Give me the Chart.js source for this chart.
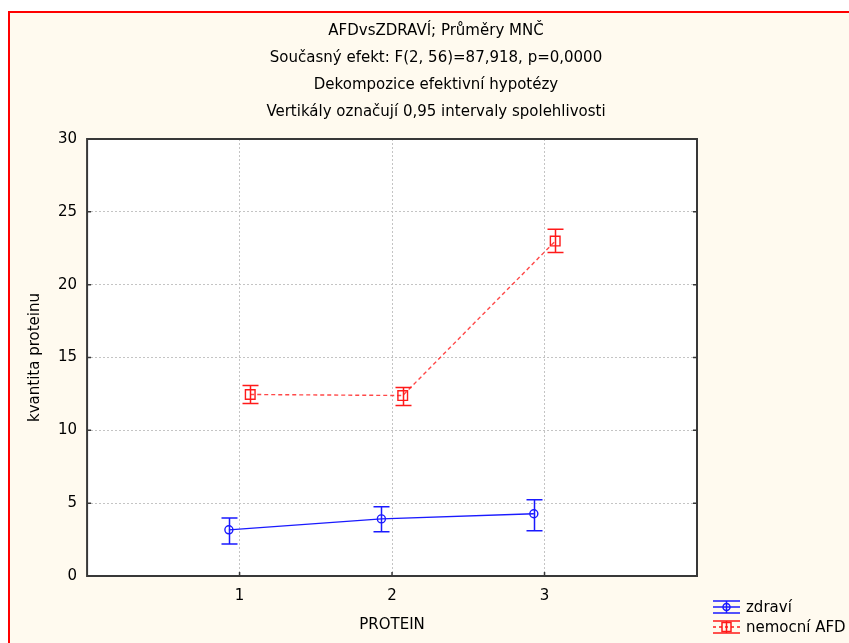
<!DOCTYPE html>
<html>
<head>
<meta charset="utf-8">
<script src="https://cdn.jsdelivr.net/npm/chart.js@4.4.0/dist/chart.umd.min.js"></script>
<style>
    html, body { margin: 0; padding: 0; background: #fff; }
    #wrap { width: 849px; height: 643px; position: relative; }
</style>
</head>
<body>
<div id="wrap"><canvas id="afd-chart"></canvas></div>
<script>
    // values
    const proteins = [1, 2, 3];
    const zdraviMean = [3.17, 3.92, 4.27];
    const zdraviLow = [2.2, 3.03, 3.1];
    const zdraviHigh = [3.99, 4.75, 5.23];
    const afdMean = [12.46, 12.39, 22.99];
    const afdLow = [11.84, 11.7, 22.2];
    const afdHigh = [13.08, 12.94, 23.8];
    const titleLines = [
        'AFDvsZDRAVÍ; Průměry MNČ',
        'Současný efekt: F(2, 56)=87,918, p=0,0000',
        'Dekompozice efektivní hypotézy',
        'Vertikály označují 0,95 intervaly spolehlivosti'
    ];

    const FONT = '"DejaVu Sans", "Liberation Sans", sans-serif';
    const BLUE = '#1a1aff';
    const RED = '#ff1a1a';
    const shift = 0.07;

    function points(means, dx) {
        return means.map((m, i) => ({ x: proteins[i] + dx, y: m }));
    }

    const series = [
        { label: 'zdraví', mean: zdraviMean, low: zdraviLow, high: zdraviHigh, color: BLUE, dx: -shift, marker: 'circle' },
        { label: 'nemocní AFD', mean: afdMean, low: afdLow, high: afdHigh, color: RED, dx: shift, marker: 'rect' }
    ];

    const backdrop = {
        id: 'backdrop',
        beforeDraw(chart) {
            const ctx = chart.ctx, a = chart.chartArea;
            ctx.save();
            ctx.fillStyle = '#fffaef';
            ctx.fillRect(9, 12, chart.width, chart.height);
            ctx.fillStyle = '#ff0000';
            ctx.fillRect(8, 11, chart.width, 2);
            ctx.fillRect(8, 11, 2, chart.height);
            ctx.fillStyle = '#ffffff';
            ctx.fillRect(a.left, a.top, a.right - a.left, a.bottom - a.top);

            // title block
            ctx.fillStyle = '#000';
            ctx.font = '15px ' + FONT;
            ctx.textAlign = 'center';
            ctx.textBaseline = 'middle';
            titleLines.forEach((t, i) => ctx.fillText(t, 436, 31 + i * 27));
            ctx.restore();
        },
        afterDraw(chart) {
            const ctx = chart.ctx, a = chart.chartArea;
            const xs = chart.scales.x, ys = chart.scales.y;
            ctx.save();
            // frame and inner ticks
            ctx.strokeStyle = '#383838';
            ctx.lineWidth = 2;
            ctx.strokeRect(a.left, a.top, a.right - a.left, a.bottom - a.top);
            ctx.lineWidth = 1.5;
            ctx.beginPath();
            for (let v = 5; v < 30; v += 5) {
                const py = ys.getPixelForValue(v);
                ctx.moveTo(a.left, py); ctx.lineTo(a.left + 4, py);
                ctx.moveTo(a.right, py); ctx.lineTo(a.right - 4, py);
            }
            proteins.forEach(p => {
                const px = xs.getPixelForValue(p);
                ctx.moveTo(px, a.bottom); ctx.lineTo(px, a.bottom - 4);
            });
            ctx.stroke();

            // error bars
            series.forEach(s => {
                ctx.strokeStyle = s.color;
                ctx.lineWidth = 1.5;
                ctx.beginPath();
                s.mean.forEach((m, i) => {
                    const px = Math.round(xs.getPixelForValue(proteins[i] + s.dx)) + 0.5;
                    const lo = ys.getPixelForValue(s.low[i]);
                    const hi = ys.getPixelForValue(s.high[i]);
                    ctx.moveTo(px, lo); ctx.lineTo(px, hi);
                    ctx.moveTo(px - 8, lo); ctx.lineTo(px + 8, lo);
                    ctx.moveTo(px - 8, hi); ctx.lineTo(px + 8, hi);
                });
                ctx.stroke();
            });

            // legend
            ctx.font = '15px ' + FONT;
            ctx.textBaseline = 'middle';
            series.forEach((s, i) => {
                const cy = 607 + i * 20;
                const x0 = 713, x1 = 740, cx = (x0 + x1) / 2;
                ctx.strokeStyle = s.color;
                ctx.lineWidth = 1.5;
                ctx.beginPath();
                ctx.moveTo(x0, cy - 6); ctx.lineTo(x1, cy - 6);
                ctx.moveTo(x0, cy + 6); ctx.lineTo(x1, cy + 6);
                ctx.moveTo(cx, cy - 6); ctx.lineTo(cx, cy + 6);
                ctx.stroke();
                ctx.setLineDash(i ? [3, 3] : []);
                ctx.beginPath();
                ctx.moveTo(x0, cy); ctx.lineTo(x1, cy);
                ctx.stroke();
                ctx.setLineDash([]);
                ctx.beginPath();
                if (s.marker === 'circle') ctx.arc(cx, cy, 3.5, 0, Math.PI * 2);
                else ctx.rect(cx - 4.5, cy - 4.5, 9, 9);
                ctx.stroke();
                ctx.fillStyle = '#000';
                ctx.fillText(s.label, 746, cy + 1);
            });
            ctx.restore();
        }
    };

    const config = {
        type: 'line',
        data: {
            datasets: series.map((s, i) => ({
                label: s.label,
                data: points(s.mean, s.dx),
                borderColor: i ? 'rgba(255,40,40,0.85)' : s.color,
                borderWidth: 1.4,
                borderDash: i ? [4, 3] : [],
                pointStyle: s.marker,
                pointRadius: s.marker === 'rect' ? 6.8 : 4,
                pointBorderColor: s.color,
                pointBackgroundColor: 'rgba(0,0,0,0)',
                pointBorderWidth: 1.4,
                fill: false,
                tension: 0
            }))
        },
        options: {
            responsive: true,
            maintainAspectRatio: false,
            animation: false,
            layout: { padding: { left: 26, top: 139, right: 152, bottom: 9 } },
            plugins: {
                legend: { display: false },
                tooltip: { enabled: false },
                title: { display: false }
            },
            scales: {
                x: {
                    type: 'linear',
                    min: 0,
                    max: 4,
                    ticks: {
                        stepSize: 1,
                        color: '#000',
                        font: { family: FONT, size: 15 },
                        padding: 11,
                        callback: v => proteins.includes(v) ? String(v) : ''
                    },
                    grid: {
                        color: c => proteins.includes(c.tick.value) ? '#c4c4c4' : 'rgba(0,0,0,0)',
                        drawTicks: false,
                        lineWidth: 1
                    },
                    border: { display: false, dash: [2, 2] },
                    title: {
                        display: true,
                        text: 'PROTEIN',
                        color: '#000',
                        font: { family: FONT, size: 15 },
                        padding: { top: 0, bottom: 0 }
                    }
                },
                y: {
                    min: 0,
                    max: 30,
                    ticks: {
                        stepSize: 5,
                        color: '#000',
                        font: { family: FONT, size: 15 },
                        padding: 10
                    },
                    grid: {
                        color: c => (c.tick.value > 0 && c.tick.value < 30) ? '#c4c4c4' : 'rgba(0,0,0,0)',
                        drawTicks: false,
                        lineWidth: 1
                    },
                    border: { display: false, dash: [2, 2] },
                    title: {
                        display: true,
                        text: 'kvantita proteinu',
                        color: '#000',
                        font: { family: FONT, size: 15 },
                        padding: { top: 0, bottom: 4 }
                    }
                }
            }
        },
        plugins: [backdrop]
    };

    const afdChart = new Chart(document.getElementById('afd-chart'), config);
</script>
</body>
</html>
